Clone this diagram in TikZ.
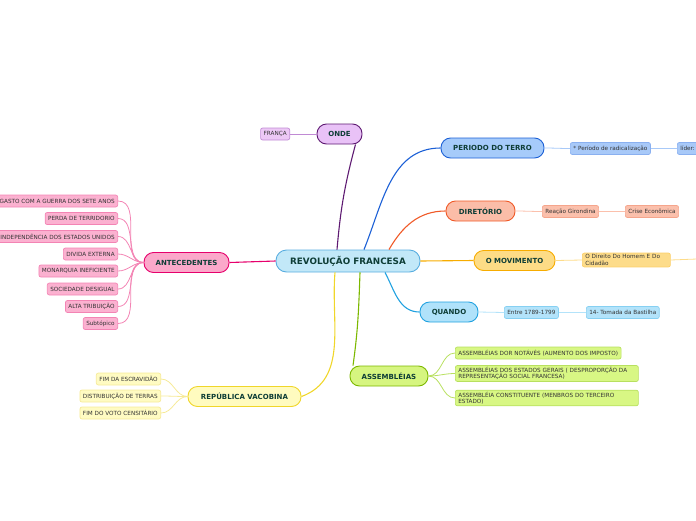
\documentclass[tikz,border=0pt]{standalone}
\usepackage{fontspec}
\setmainfont{DejaVu Sans}
\definecolor{txtmain}{HTML}{0E3D36}
\definecolor{txtsub}{HTML}{333333}
\definecolor{revfill}{HTML}{C2E8F8}\definecolor{revline}{HTML}{5AAEE0}
\definecolor{ondefill}{HTML}{E9C2F7}\definecolor{ondeline}{HTML}{5E1A72}
\definecolor{ondesub}{HTML}{ECC8F5}\definecolor{ondesubl}{HTML}{C08AD4}
\definecolor{terrofill}{HTML}{A6CBFA}\definecolor{terroline}{HTML}{1C60D6}
\definecolor{terrosub}{HTML}{A8C9F8}\definecolor{terrosubl}{HTML}{8AB0F0}
\definecolor{dirfill}{HTML}{FBBDA8}\definecolor{dirline}{HTML}{F05A28}
\definecolor{dirsub}{HTML}{FBC0AC}\definecolor{dirsubl}{HTML}{F5A58C}
\definecolor{movfill}{HTML}{FDDC86}\definecolor{movline}{HTML}{F7AC00}
\definecolor{movsub}{HTML}{FDDC8A}\definecolor{movsubl}{HTML}{FBD06A}
\definecolor{quafill}{HTML}{B0E2FA}\definecolor{qualine}{HTML}{22A2E0}
\definecolor{quasub}{HTML}{B3E3FA}\definecolor{quasubl}{HTML}{86D0F2}
\definecolor{assfill}{HTML}{D6F580}\definecolor{assline}{HTML}{7CB800}
\definecolor{asssub}{HTML}{D8F784}\definecolor{asssubl}{HTML}{B8E060}
\definecolor{repfill}{HTML}{FFFBBF}\definecolor{repline}{HTML}{F0D62A}
\definecolor{repsub}{HTML}{FFFBC2}\definecolor{repsubl}{HTML}{F6EA98}
\definecolor{antfill}{HTML}{FBA8CA}\definecolor{antline}{HTML}{E6006C}
\definecolor{antsub}{HTML}{FBB1D0}\definecolor{antsubl}{HTML}{F384B4}
\begin{document}
\begin{tikzpicture}[x=1pt,y=-1pt,line width=1.1pt,
  topic/.style={rounded corners=9.5pt,draw,line width=0.9pt,text=txtmain,
    font=\fontsize{7}{8}\selectfont\bfseries,minimum height=20pt,inner sep=1pt},
  sub/.style={rounded corners=2pt,draw,line width=0.7pt,text=txtsub,
    font=\fontsize{5.7}{6.5}\selectfont,minimum height=12pt,inner xsep=3pt,inner ysep=1.5pt},
  link/.style={line width=0.8pt}]
\useasboundingbox (0,0) rectangle (696,520);

% centre
\node[topic,fill=revfill,draw=revline,minimum width=144pt,minimum height=22pt,
  rounded corners=10.5pt,font=\fontsize{8.8}{9}\selectfont\bfseries] (rev) at (348,261) {REVOLUÇÃO FRANCESA};

% onde
\node[topic,fill=ondefill,draw=ondeline,minimum width=45pt] (onde) at (339.5,134) {ONDE};
\node[sub,fill=ondesub,draw=ondesubl,anchor=east] (franca) at (290,134) {FRANÇA};
\draw[ondeline] ([xshift=-11pt]rev.north) to[out=85,in=-105] ([xshift=16pt]onde.south);
\draw[link,ondesubl] (onde.west) -- (franca.east);

% periodo do terro
\node[topic,fill=terrofill,draw=terroline,minimum width=103pt] (terro) at (492.5,148) {PERIODO DO TERRO};
\node[sub,fill=terrosub,draw=terrosubl,anchor=west] (radic) at (570,148.5) {* Período de radicalização};
\node[sub,fill=terrosub,draw=terrosubl,anchor=west] (lider) at (677,148.5) {líder:};
\draw[terroline] ([xshift=16pt]rev.north) to[out=68,in=180] (terro.west);
\draw[link,terrosub] (terro.east) to[out=0,in=180] (radic.west);
\draw[link,terrosub] (radic.east) -- (lider.west);

% diretorio
\node[topic,fill=dirfill,draw=dirline,minimum width=69pt] (dir) at (480.5,211) {DIRETÓRIO};
\node[sub,fill=dirsub,draw=dirsubl,anchor=west] (giron) at (542,211.5) {Reação Girondina};
\node[sub,fill=dirsub,draw=dirsubl,anchor=west] (crise) at (625,211.5) {Crise Econômica};
\draw[dirline] ([xshift=41pt]rev.north) to[out=60,in=180] (dir.west);
\draw[link,dirsub] (dir.east) to[out=0,in=180] (giron.west);
\draw[link,dirsub] (giron.east) -- (crise.west);

% o movimento
\node[topic,fill=movfill,draw=movline,minimum width=81pt] (mov) at (514.5,260.5) {O MOVIMENTO};
\node[sub,fill=movsub,draw=movsubl,anchor=west,text width=82pt,align=left] (direito) at (582,260) {O Direito Do Homem E Do\\Cidadão};
\coordinate (movend) at (697,259);
\draw[movline] (rev.east) -- (mov.west);
\draw[link,movsub] (mov.east) -- (direito.west);
\draw[link,movsub] (direito.east) -- (movend);

% quando
\node[topic,fill=quafill,draw=qualine,minimum width=58pt] (quando) at (449,312) {QUANDO};
\node[sub,fill=quasub,draw=quasubl,anchor=west] (entre) at (504,312.5) {Entre 1789-1799};
\node[sub,fill=quasub,draw=quasubl,anchor=west] (bast) at (586,312.5) {14- Tomada da Bastilha};
\draw[qualine] ([xshift=37pt]rev.south) to[out=-62,in=180] (quando.west);
\draw[link,quasub] (quando.east) -- (entre.west);
\draw[link,quasub] (entre.east) -- (bast.west);

% assembleias
\node[topic,fill=assfill,draw=assline,minimum width=78pt] (assemb) at (389,376) {ASSEMBLÉIAS};
\node[sub,fill=asssub,draw=asssubl,anchor=west] (as1) at (455,353) {ASSEMBLÉIAS DOR NOTÁVÉS (AUMENTO DOS IMPOSTO)};
\node[sub,fill=asssub,draw=asssubl,anchor=west,text width=177pt,align=left] (as2) at (455,373.5) {ASSEMBLÉIAS DOS ESTADOS GERAIS ( DESPROPORÇÃO DA\\REPRESENTAÇÃO SOCIAL FRANCESA)};
\node[sub,fill=asssub,draw=asssubl,anchor=west,text width=177pt,align=left] (as3) at (455,398) {ASSEMBLÉIA CONSTITUENTE (MENBROS DO TERCEIRO\\ESTADO)};
\draw[assline] ([xshift=12pt]rev.south) to[out=-92,in=82] ([xshift=-36pt]assemb.north);
\draw[link,asssubl] (assemb.east) to[out=0,in=180] (as1.west);
\draw[link,asssubl] (assemb.east) to[out=0,in=180] (as2.west);
\draw[link,asssubl] (assemb.east) to[out=0,in=180] (as3.west);

% republica vacobina
\node[topic,fill=repfill,draw=repline,minimum width=113pt] (rep) at (244.5,396.5) {REPÚBLICA VACOBINA};
\node[sub,fill=repsub,draw=repsubl,anchor=east] (rp1) at (161,379) {FIM DA ESCRAVIDÃO};
\node[sub,fill=repsub,draw=repsubl,anchor=east] (rp2) at (161,396) {DISTRIBUIÇÃO DE TERRAS};
\node[sub,fill=repsub,draw=repsubl,anchor=east] (rp3) at (161,413) {FIM DO VOTO CENSITÁRIO};
\draw[repline] ([xshift=-13pt]rev.south) to[out=-95,in=20] (rep.east);
\draw[link,repsubl] (rep.west) to[out=180,in=0] (rp1.east);
\draw[link,repsubl] (rep.west) to[out=180,in=0] (rp2.east);
\draw[link,repsubl] (rep.west) to[out=180,in=0] (rp3.east);

% antecedentes
\node[topic,fill=antfill,draw=antline,minimum width=85pt] (ante) at (186.5,262.5) {ANTECEDENTES};
\node[sub,fill=antsub,draw=antsubl,anchor=east] (an1) at (118,201) {GASTO COM A GUERRA DOS SETE ANOS};
\node[sub,fill=antsub,draw=antsubl,anchor=east] (an2) at (118,218.5) {PERDA DE TERRIDORIO};
\node[sub,fill=antsub,draw=antsubl,anchor=east] (an3) at (118,236.5) {INDEPENDÊNCIA DOS ESTADOS UNIDOS};
\node[sub,fill=antsub,draw=antsubl,anchor=east] (an4) at (118,254) {DIVIDA EXTERNA};
\node[sub,fill=antsub,draw=antsubl,anchor=east] (an5) at (118,271) {MONARQUIA INEFICIENTE};
\node[sub,fill=antsub,draw=antsubl,anchor=east] (an6) at (118,289) {SOCIEDADE DESIGUAL};
\node[sub,fill=antsub,draw=antsubl,anchor=east] (an7) at (118,306.5) {ALTA TRIBUIÇÃO};
\node[sub,fill=antsub,draw=antsubl,anchor=east] (an8) at (118,323.5) {Subtópico};
\draw[antline] (rev.west) -- (ante.east);
\foreach \i in {1,...,8}
  \draw[link,antsubl] (ante.west) to[out=180,in=0] (an\i.east);

\end{tikzpicture}
\end{document}
